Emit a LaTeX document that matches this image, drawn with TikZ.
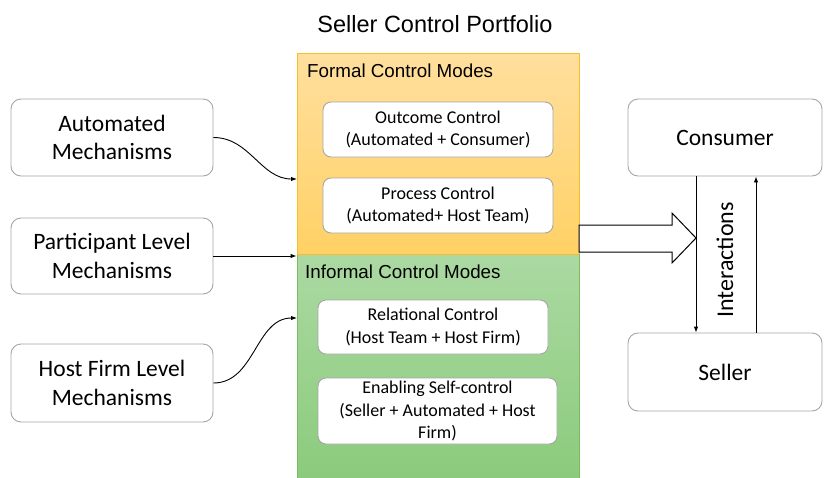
\documentclass[tikz,border=0pt]{standalone}
\usepackage{fontspec}
\setmainfont{Carlito}
\newfontfamily\arialf{Liberation Sans}
\usetikzlibrary{arrows.meta,calc}
\definecolor{boxline}{HTML}{A6A6A6}
\definecolor{orgtop}{HTML}{FFDF9E}
\definecolor{orgbot}{HTML}{FFD165}
\definecolor{orgline}{HTML}{F5BE2A}
\definecolor{grntop}{HTML}{ABD9A2}
\definecolor{grnbot}{HTML}{8BCB7C}
\definecolor{grnline}{HTML}{7DBA62}
\tikzset{
  bigbox/.style={draw=boxline, line width=0.9pt, rounded corners=10pt, fill=white, align=center, font=\fontsize{23.5}{28.7}\selectfont, inner sep=0pt},
  smallbox/.style={draw=boxline, line width=0.9pt, rounded corners=8pt, fill=white, align=center, font=\fontsize{18}{22.3}\selectfont, inner sep=0pt},
  arr/.style={line width=0.9pt, -{Latex[length=6pt,width=4.5pt]}},
  lbl/.style={font=\arialf\fontsize{18.8}{22}\selectfont, anchor=west, inner sep=0pt},
}
\begin{document}
\begin{tikzpicture}[x=1pt,y=-1pt]
\useasboundingbox (0,0) rectangle (824,477);
% title
\node[font=\arialf\fontsize{23.5}{28}\selectfont] (title) at (435,24) {Seller Control Portfolio};
% containers
\node[draw=orgline, line width=0.9pt, top color=orgtop, bottom color=orgbot, minimum width=282pt, minimum height=201pt, inner sep=0pt] (formal) at (438,153.5) {};
\node[draw=grnline, line width=0.9pt, top color=grntop, bottom color=grnbot, minimum width=282pt, minimum height=226pt, inner sep=0pt] (informal) at (438,367) {};
\draw[orgline, line width=1.2pt] (formal.south west) -- (formal.south east);
\node[lbl] (flbl) at (307,71) {Formal Control Modes};
\node[lbl] (ilbl) at (305,272) {Informal Control Modes};
% inner boxes
\node[smallbox, minimum width=230pt, minimum height=55pt] (outcome) at (438,129.5) {Outcome Control\\(Automated + Consumer)};
\node[smallbox, minimum width=230pt, minimum height=55pt] (process) at (438,205.5) {Process Control\\(Automated+ Host Team)};
\node[smallbox, minimum width=230pt, minimum height=54pt] (relational) at (433,327) {Relational Control\\(Host Team + Host Firm)};
\node[smallbox, minimum width=239pt, minimum height=66pt] (enabling) at (437.5,411) {Enabling Self-control\\(Seller + Automated + Host\\Firm)};
% left boxes
\node[bigbox, minimum width=202pt, minimum height=77pt] (auto) at (112,137.5) {Automated\\Mechanisms};
\node[bigbox, minimum width=202pt, minimum height=76pt] (part) at (112,256) {Participant Level\\Mechanisms};
\node[bigbox, minimum width=202pt, minimum height=78pt] (host) at (112,383) {Host Firm Level\\Mechanisms};
% right boxes
\node[bigbox, minimum width=194pt, minimum height=77pt] (consumer) at (725,137.5) {Consumer};
\node[bigbox, minimum width=194pt, minimum height=78pt] (seller) at (725,372) {Seller};
\node[font=\fontsize{24}{28}\selectfont, rotate=90, inner sep=0pt] (inter) at (725,260) {Interactions};
% connectors
\coordinate (autoend) at (297,179);
\coordinate (hostend) at (297,318);
\draw[arr] (auto.east) to[out=0,in=180] (autoend);
\draw[arr] (part.east) -- (part.east -| formal.west);
\draw[arr] (host.east) to[out=0,in=180] (hostend);
\coordinate (dn) at (696,0);
\coordinate (upx) at (756,0);
\draw[arr] (consumer.south -| dn) -- (seller.north -| dn);
\draw[arr] (seller.north -| upx) -- (consumer.south -| upx);
% block arrow
\draw[line width=1pt, fill=white] (579,225) -- (672,225) -- (672,213) -- (696,238) -- (672,263) -- (672,252) -- (579,252) -- cycle;
\end{tikzpicture}
\end{document}
